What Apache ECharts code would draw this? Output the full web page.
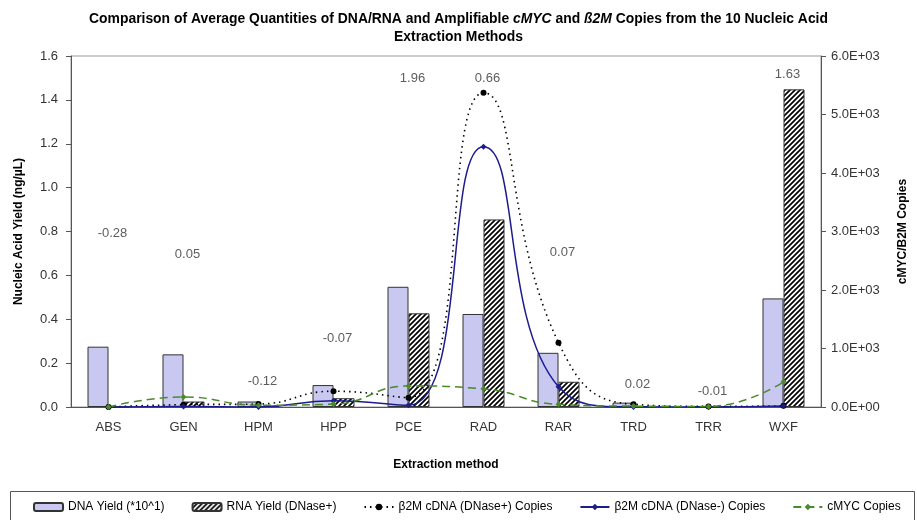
<!DOCTYPE html>
<html>
<head>
<meta charset="utf-8">
<script src="https://cdn.jsdelivr.net/npm/echarts@6/dist/echarts.min.js"></script>
<style>html,body{margin:0;padding:0;background:#fff;}#c{width:917px;height:520px;}</style>
</head>
<body>
<div id="c"></div>
<script>
const categories = ['ABS','GEN','HPM','HPP','PCE','RAD','RAR','TRD','TRR','WXF'];
const dnaYield = [0.275, 0.24, 0.025, 0.10, 0.548, 0.424, 0.247, 0.02, 0.003, 0.495];
const rnaYield = [0.0, 0.025, 0.005, 0.04, 0.427, 0.855, 0.115, 0.004, 0.002, 1.448];
const b2mPlus = [0, 40, 50, 270, 160, 5370, 1100, 45, 10, 20];
const b2mMinus = [0, 10, 0, 108, 30, 4450, 347, 0, 0, 15];
const cmyc = [0, 170, 30, 50, 360, 310, 45, 15, 10, 430];
const annotText = ['-0.28','0.05','-0.12','-0.07','1.96','0.66','0.07','0.02','-0.01','1.63'];
const annotLevel = [0.793, 0.696, 0.115, 0.311, 1.498, 1.498, 0.705, 0.103, 0.07, 1.516];
const leftTicks = {min: 0, max: 1.6, interval: 0.2};
const rightTicks = {min: 0, max: 6000, interval: 1000};

const FONT = '"Liberation Sans", Arial, sans-serif';

// hatch pattern
const pc = document.createElement('canvas');
pc.width = 5; pc.height = 5;
const g = pc.getContext('2d');
g.fillStyle = '#fff'; g.fillRect(0,0,5,5);
g.strokeStyle = '#000'; g.lineWidth = 1.7;
g.beginPath();
g.moveTo(-1,6); g.lineTo(6,-1);
g.moveTo(-1,1); g.lineTo(1,-1);
g.moveTo(4,6); g.lineTo(6,4);
g.stroke();

function sci(v){
  if (v === 0) return '0.0E+00';
  const e = Math.floor(Math.log10(v) + 1e-9);
  const m = v / Math.pow(10, e);
  return m.toFixed(1) + 'E' + (e < 0 ? '-' : '+') + String(Math.abs(e)).padStart(2, '0');
}

const chart = echarts.init(document.getElementById('c'), null, {renderer: 'canvas'});
chart.setOption({
  animation: false,
  backgroundColor: '#fff',
  title: {
    text: 'Comparison of Average Quantities of DNA/RNA and Amplifiable {i|cMYC} and {i|ß2M} Copies from the 10 Nucleic Acid\nExtraction Methods',
    left: 'center', top: 5,
    textStyle: {
      fontFamily: FONT, fontSize: 13.9, fontWeight: 'bold', color: '#000', lineHeight: 18,
      rich: {i: {fontFamily: FONT, fontSize: 13.9, fontWeight: 'bold', fontStyle: 'italic', color: '#000', lineHeight: 18}}
    }
  },
  grid: {left: 71, right: 94, top: 56, bottom: 113, show: true, borderColor: '#999', borderWidth: 1},
  legend: {
    left: 28, top: 496, itemGap: 27, itemWidth: 29, itemHeight: 8,
    textStyle: {fontFamily: FONT, fontSize: 12, color: '#000'},
    data: ['DNA Yield (*10^1)', 'RNA Yield (DNase+)', 'β2M cDNA (DNase+) Copies', 'β2M cDNA (DNase-) Copies', 'cMYC Copies']
  },
  graphic: [{
    type: 'rect', left: 8, top: 489, shape: {width: 904, height: 40},
    style: {fill: 'none', stroke: '#555', lineWidth: 1}, silent: true
  }],
  xAxis: {
    type: 'category', data: categories,
    name: 'Extraction method', nameLocation: 'middle', nameGap: 52,
    nameTextStyle: {fontFamily: FONT, fontSize: 12, fontWeight: 'bold', color: '#000'},
    axisLine: {lineStyle: {color: '#555'}},
    axisTick: {length: 5, lineStyle: {color: '#555'}},
    axisLabel: {fontFamily: FONT, fontSize: 13, color: '#333', margin: 14}
  },
  yAxis: [{
    type: 'value', min: leftTicks.min, max: leftTicks.max, interval: leftTicks.interval,
    name: 'Nucleic Acid Yield (ng/µL)', nameLocation: 'middle', nameGap: 46, nameRotate: 90,
    nameTextStyle: {fontFamily: FONT, fontSize: 12, fontWeight: 'bold', color: '#000'},
    axisLine: {show: true, lineStyle: {color: '#555'}},
    axisTick: {show: true, length: 5, lineStyle: {color: '#555'}},
    splitLine: {show: false},
    axisLabel: {fontFamily: FONT, fontSize: 13, color: '#333', margin: 13, formatter: v => v.toFixed(1)}
  }, {
    type: 'value', position: 'right', min: rightTicks.min, max: rightTicks.max, interval: rightTicks.interval,
    name: 'cMYC/B2M Copies', nameLocation: 'middle', nameGap: 76, nameRotate: 90,
    nameTextStyle: {fontFamily: FONT, fontSize: 12, fontWeight: 'bold', color: '#000'},
    axisLine: {show: true, lineStyle: {color: '#555'}},
    axisTick: {show: true, length: 5, lineStyle: {color: '#555'}},
    splitLine: {show: false},
    axisLabel: {fontFamily: FONT, fontSize: 13, color: '#333', margin: 10, formatter: sci}
  }],
  series: [{
    name: 'DNA Yield (*10^1)', type: 'bar', data: dnaYield, barWidth: 21, barGap: '0%',
    itemStyle: {color: '#c8c8f0', borderColor: '#333', borderWidth: 1}
  }, {
    name: 'RNA Yield (DNase+)', type: 'bar', data: rnaYield, barWidth: 21, barGap: '0%',
    itemStyle: {color: {image: pc, repeat: 'repeat'}, borderColor: '#333', borderWidth: 1}
  }, {
    name: 'β2M cDNA (DNase+) Copies', type: 'line', yAxisIndex: 1, data: b2mPlus, smooth: 0.5,
    symbol: 'circle', symbolSize: 6, z: 5,
    lineStyle: {color: '#000', width: 1.6, type: [1.5, 4]},
    itemStyle: {color: '#000'}
  }, {
    name: 'β2M cDNA (DNase-) Copies', type: 'line', yAxisIndex: 1, data: b2mMinus, smooth: 0.5,
    symbol: 'diamond', symbolSize: 6, z: 5,
    lineStyle: {color: '#1c1c8f', width: 1.5},
    itemStyle: {color: '#1c1c8f'}
  }, {
    name: 'cMYC Copies', type: 'line', yAxisIndex: 1, data: cmyc, smooth: 0.5,
    symbol: 'diamond', symbolSize: 6, z: 5,
    lineStyle: {color: '#4a8a2a', width: 1.5, type: [8, 5]},
    itemStyle: {color: '#4a8a2a'}
  }, {
    name: 'annot', type: 'scatter', yAxisIndex: 0, data: annotLevel, symbolSize: 0, silent: true, z: 6,
    label: {
      show: true, position: 'inside', offset: [4, 0],
      fontFamily: FONT, fontSize: 13, color: '#333',
      formatter: p => annotText[p.dataIndex]
    }
  }]
});
</script>
</body>
</html>
